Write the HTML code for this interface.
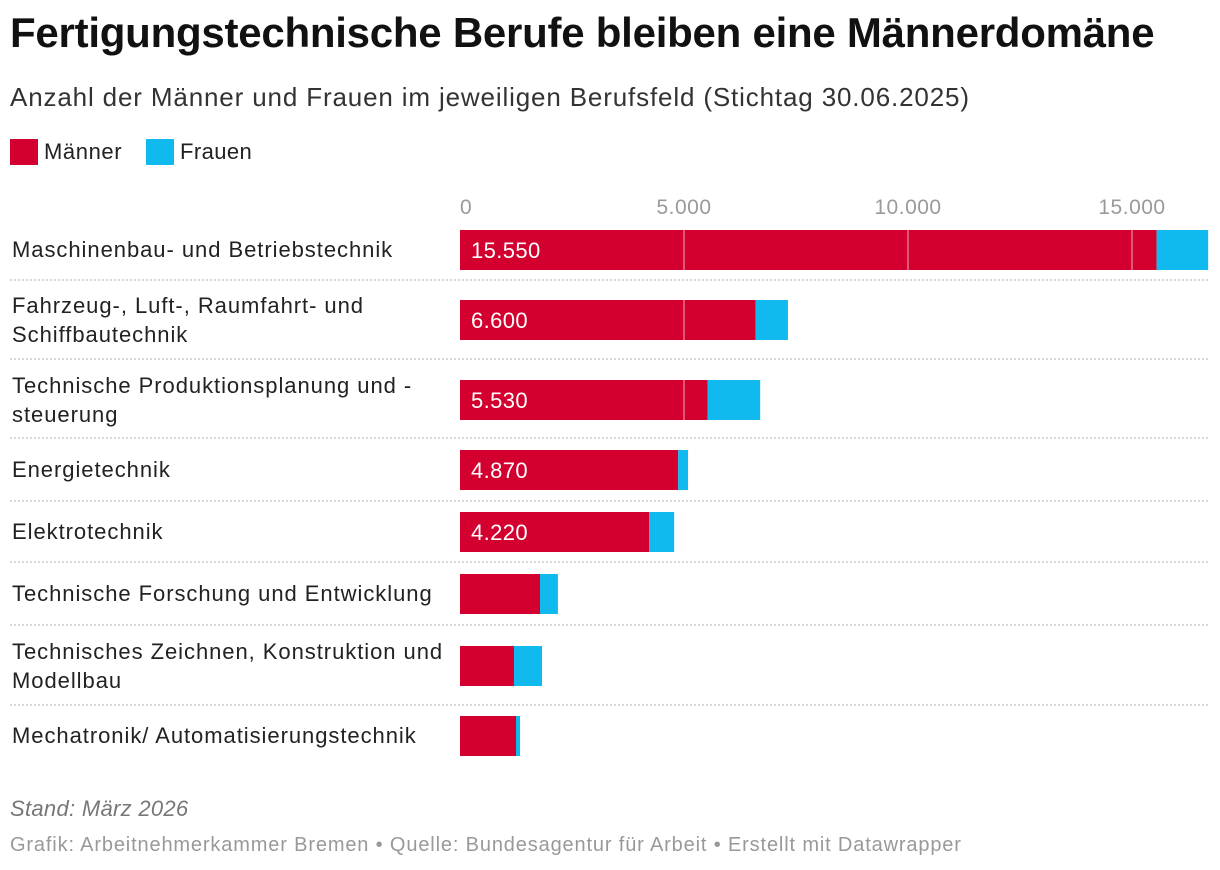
<!DOCTYPE html>
<html><head><meta charset="utf-8">
<style>
body{margin:0;background:#fff;font-family:"Liberation Sans",sans-serif;width:1220px;height:870px;overflow:hidden;position:relative;color:#222}
.abs{position:absolute;white-space:nowrap}
</style></head><body>
<div class="abs" style="left:10px;top:9px;font-size:42px;font-weight:bold;color:#111;letter-spacing:-0.25px">Fertigungstechnische Berufe bleiben eine Männerdomäne</div>
<div class="abs" style="left:10px;top:82px;font-size:26px;color:#333;letter-spacing:0.85px">Anzahl der Männer und Frauen im jeweiligen Berufsfeld (Stichtag 30.06.2025)</div>
<div class="abs" style="left:10px;top:139px;font-size:22px;letter-spacing:0.6px;display:flex;align-items:center"><span style="display:inline-block;width:28px;height:26px;background:#d3002f;margin-right:6px"></span>Männer</div>
<div class="abs" style="left:146px;top:139px;font-size:22px;letter-spacing:0.4px;display:flex;align-items:center"><span style="display:inline-block;width:28px;height:26px;background:#10b9ee;margin-right:6px"></span>Frauen</div>
<svg class="abs" style="left:0;top:0" width="1220" height="870" id="chart"></svg>
<div class="abs" style="left:10px;top:796px;font-size:22px;font-style:italic;color:#777;letter-spacing:0.3px">Stand: März 2026</div>
<div class="abs" style="left:10px;top:834px;font-size:20px;color:#999;letter-spacing:0.85px">Grafik: Arbeitnehmerkammer Bremen • Quelle: Bundesagentur für Arbeit • Erstellt mit Datawrapper</div>
<script>
const categories=[["Maschinenbau- und Betriebstechnik"],["Fahrzeug-, Luft-, Raumfahrt- und","Schiffbautechnik"],["Technische Produktionsplanung und -","steuerung"],["Energietechnik"],["Elektrotechnik"],["Technische Forschung und Entwicklung"],["Technisches Zeichnen, Konstruktion und","Modellbau"],["Mechatronik/ Automatisierungstechnik"]];
const men=[15550,6600,5530,4870,4220,1786,1205,1250];
const women=[1150,720,1170,220,560,400,625,90];
const menLabels=["15.550","6.600","5.530","4.870","4.220","","",""];
const ticks=[0,5000,10000,15000];
const tickLabels=["0","5.000","10.000","15.000"];
const NS="http://www.w3.org/2000/svg";
const svg=document.getElementById('chart');
const x0=460,k=224/5000;
const X=v=>x0+v*k;
const barTops=[230,300,380,450,512,574,646,716];
const seps=[280,359,438,501,562,625,705];
function mk(t,a){const e=document.createElementNS(NS,t);for(const n in a)e.setAttribute(n,a[n]);svg.appendChild(e);return e;}
ticks.forEach((t,i)=>{const e=mk('text',{x:X(t),y:214,'font-size':21,'letter-spacing':0.5,fill:'#9a9a9a','text-anchor':i==0?'start':'middle'});


e.textContent=tickLabels[i];});
seps.forEach(y=>{const l=mk('line',{x1:10,x2:1208,y1:y,y2:y,stroke:'#ccc','stroke-width':1.5,'stroke-dasharray':'2,2'});

});
categories.forEach((c,i)=>{const top=barTops[i],h=40;
const lt=mk('text',{x:12,'font-size':22,'letter-spacing':0.95,fill:'#222'});


const cy=top+h/2+7;
c.forEach((s,j)=>{const ts=document.createElementNS(NS,'tspan');ts.setAttribute('x',12);ts.setAttribute('y',c.length==1?cy:cy-14+j*29);ts.textContent=s;lt.appendChild(ts);});
const m=mk('rect',{x:X(0),y:top,width:X(men[i])-X(0),height:h,fill:'#d3002f'});


const w=mk('rect',{x:X(men[i]),y:top,width:X(men[i]+women[i])-X(men[i]),height:h,fill:'#10b9ee'});


ticks.forEach(t=>{if(t>0&&X(t)<X(men[i])){const g=mk('line',{x1:X(t),x2:X(t),y1:top,y2:top+h,stroke:'rgba(255,255,255,0.45)','stroke-width':1.5});

}});
if(menLabels[i]){const v=mk('text',{x:X(0)+11,y:top+h/2+8,'font-size':22,'letter-spacing':0.4,fill:'#fff'});


v.textContent=menLabels[i];}
});
</script>
</body></html>
